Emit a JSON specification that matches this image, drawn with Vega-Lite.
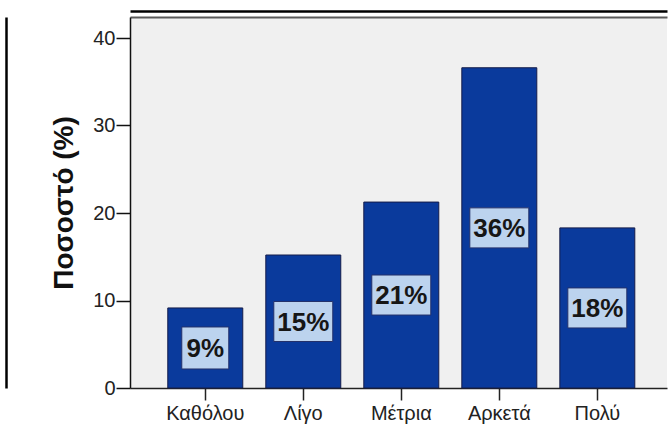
{
  "$schema": "https://vega.github.io/schema/vega-lite/v6.json",
  "autosize": "none",
  "padding": {"left": 130, "top": 17, "right": 3, "bottom": 37},
  "width": 537,
  "height": 371,
  "background": "white",
  "config": {
    "view": {"stroke": null, "fill": "#f0f0f0"},
    "font": "Liberation Sans"
  },
  "data": {
    "values": [
      {"cat": "Καθόλου", "value": 9.15, "label": "9%"},
      {"cat": "Λίγο", "value": 15.2, "label": "15%"},
      {"cat": "Μέτρια", "value": 21.25, "label": "21%"},
      {"cat": "Αρκετά", "value": 36.6, "label": "36%"},
      {"cat": "Πολύ", "value": 18.3, "label": "18%"}
    ]
  },
  "transform": [{"calculate": "datum.value / 2", "as": "mid"}],
  "encoding": {
    "x": {
      "field": "cat",
      "type": "nominal",
      "sort": null,
      "scale": {"paddingInner": 0.235, "paddingOuter": 0.357, "align": 0.54}
    }
  },
  "resolve": {"axis": {"x": "independent", "y": "independent"}},
  "layer": [
    {
      "mark": {"type": "bar", "fill": "#0a3a9c", "stroke": "#141c4a", "strokeWidth": 1},
      "encoding": {
        "x": {
          "field": "cat", "type": "nominal", "sort": null,
          "axis": {
            "orient": "bottom", "title": null, "labelAngle": 0,
            "domainColor": "#222", "domainWidth": 1.5,
            "tickColor": "#222", "tickSize": 12, "tickWidth": 1.5,
            "labelFont": "Liberation Sans", "labelFontSize": 20, "labelColor": "#222",
            "labelPadding": 3
          }
        },
        "y": {
          "field": "value", "type": "quantitative",
          "scale": {"domain": [0, 42.4], "nice": false},
          "axis": {
            "orient": "left", "title": "Ποσοστό (%)", "values": [0, 10, 20, 30, 40],
            "grid": false, "domainColor": "#111", "domainWidth": 1.5,
            "tickColor": "#111", "tickSize": 14, "tickWidth": 1.5,
            "labelFont": "Liberation Sans", "labelFontSize": 20, "labelColor": "#222",
            "labelPadding": 1,
            "titleFont": "Liberation Sans", "titleFontSize": 28, "titleFontWeight": "bold",
            "titleColor": "#111", "titlePadding": 14
          }
        }
      }
    },
    {
      "transform": [{"filter": "length(datum.label) < 3"}],
      "mark": {
        "type": "point", "filled": true, "opacity": 1, "fill": "#bcd3ee",
        "stroke": "#24316a", "strokeWidth": 1, "size": 3600,
        "shape": "M-0.783,-0.7H0.783V0.7H-0.783Z"
      },
      "encoding": {
        "x": {
          "field": "cat", "type": "nominal", "sort": null,
          "axis": {
            "orient": "top", "title": null, "labels": false, "ticks": false,
            "domainColor": "#5a5a5a", "domainWidth": 2, "offset": 0
          }
        },
        "y": {
          "field": "mid", "type": "quantitative",
          "scale": {"domain": [0, 42.4], "nice": false},
          "axis": {
            "orient": "left", "title": null, "labels": false, "ticks": false,
            "grid": false, "domainColor": "#000", "domainWidth": 2.5, "offset": 124
          }
        }
      }
    },
    {
      "transform": [{"filter": "length(datum.label) >= 3"}],
      "mark": {
        "type": "point", "filled": true, "opacity": 1, "fill": "#bcd3ee",
        "stroke": "#24316a", "strokeWidth": 1, "size": 3600,
        "shape": "M-0.983,-0.667H0.983V0.667H-0.983Z"
      },
      "encoding": {
        "x": {
          "field": "cat", "type": "nominal", "sort": null,
          "axis": {
            "orient": "top", "title": null, "labels": false, "ticks": false,
            "domainColor": "#000", "domainWidth": 2.5, "offset": 6
          }
        },
        "y": {
          "field": "mid", "type": "quantitative",
          "scale": {"domain": [0, 42.4], "nice": false},
          "axis": null
        }
      }
    },
    {
      "mark": {
        "type": "text", "font": "Liberation Sans", "fontSize": 26, "fontWeight": "bold",
        "color": "#161616", "align": "center", "baseline": "middle", "dy": 1
      },
      "encoding": {
        "x": {"field": "cat", "type": "nominal", "sort": null, "axis": null},
        "y": {
          "field": "mid", "type": "quantitative",
          "scale": {"domain": [0, 42.4], "nice": false},
          "axis": null
        },
        "text": {"field": "label"}
      }
    }
  ]
}
